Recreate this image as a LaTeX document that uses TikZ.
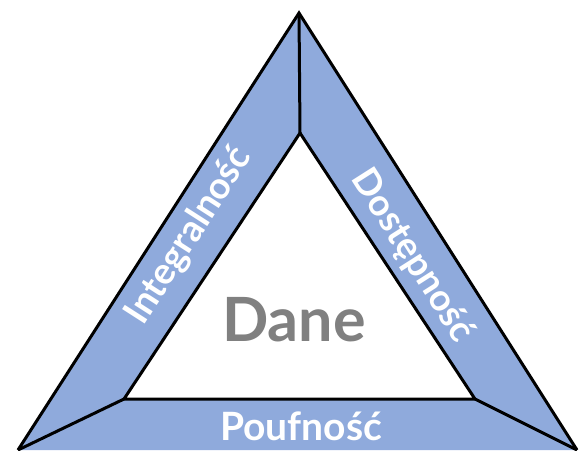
\documentclass[tikz,border=0pt]{standalone}
\usepackage{fontspec}
\setmainfont{Lato}
\definecolor{bandblue}{RGB}{143,170,220}
\definecolor{danegray}{RGB}{128,128,128}
\tikzset{
  edge/.style={draw=black, line width=3pt, line join=miter},
  bandtext/.style={text=white, font=\bfseries\fontsize{37}{37}\selectfont, inner sep=0pt},
}
\begin{document}
\begin{tikzpicture}[x=1pt,y=-1pt]
\useasboundingbox (0,0) rectangle (580,450);
\coordinate (OA) at (299,13);
\coordinate (OL) at (18,450);
\coordinate (OR) at (577,450);
\coordinate (IA) at (300,133);
\coordinate (IL) at (124,399);
\coordinate (IR) at (475,399);
\fill[bandblue, even odd rule] (OA) -- (OR) -- (OL) -- cycle (IA) -- (IR) -- (IL) -- cycle;
\draw[edge] (OL) -- (OA) -- (OR);
\draw[edge] (IA) -- (IR) -- (IL) -- cycle;
\draw[edge] (OA) -- (IA);
\draw[edge] (OL) -- (IL);
\draw[edge] (OR) -- (IR);
\node[bandtext, rotate=57.3] (integ) at (189,236) {Integralność};
\node[bandtext, rotate=-57.5] (dost) at (412,256) {Dostępność};
\node[bandtext, font=\bfseries\fontsize{39}{39}\selectfont] (pouf) at (301,426) {Poufność};
\node[text=danegray, font=\bfseries\fontsize{61}{61}\selectfont, inner sep=0pt] (dane) at (294,320) {Dane};
\end{tikzpicture}
\end{document}
